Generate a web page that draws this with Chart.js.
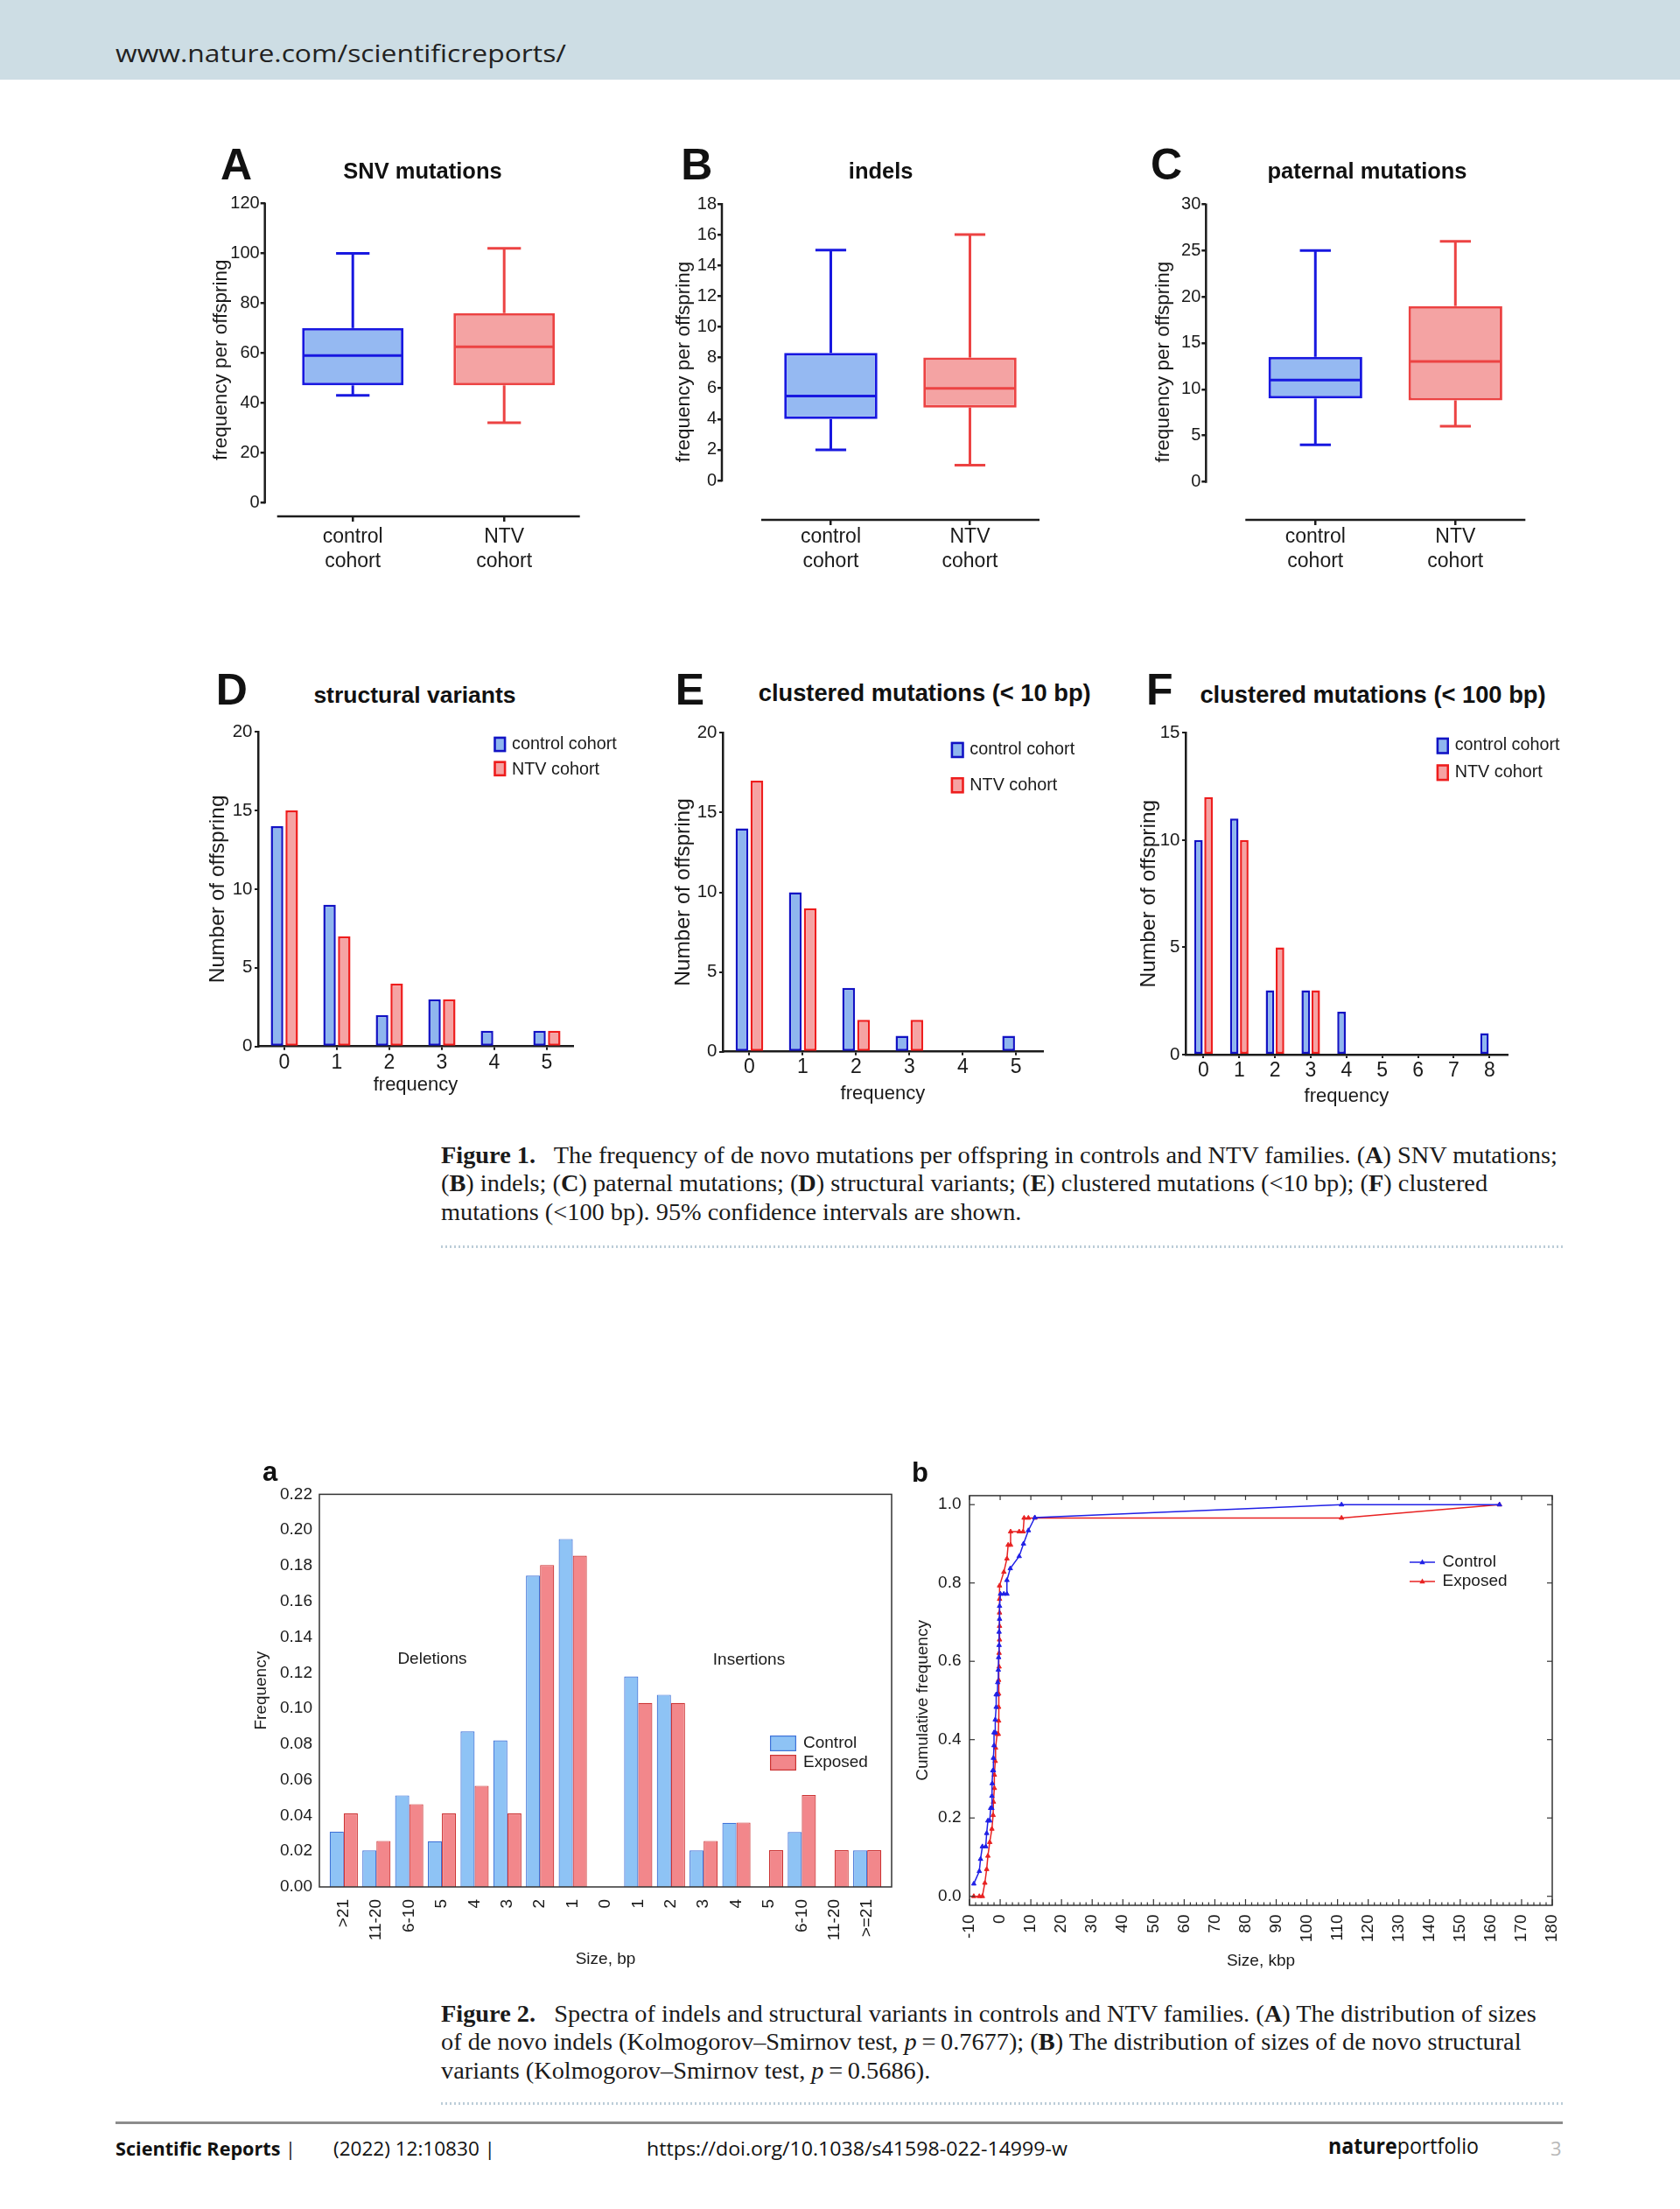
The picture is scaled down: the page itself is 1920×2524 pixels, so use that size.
<!DOCTYPE html>
<html>
<head>
<meta charset="utf-8">
<title>Scientific Reports – Figures 1 and 2</title>
<script src="https://cdn.jsdelivr.net/npm/chart.js@4.4.1/dist/chart.umd.min.js"></script>
<style>
  html, body { margin: 0; padding: 0; background: #fff; }
  #page { position: relative; width: 1920px; height: 2524px; overflow: hidden; background: #fff; }
  #page canvas { position: absolute; }
  .t { position: absolute; white-space: nowrap; color: #111; }
  #band { position: absolute; left: 0; top: 0; width: 1920px; height: 91px; background: #cddde4; }
  .dots { position: absolute; height: 3px; background: repeating-linear-gradient(90deg, #bccdd8 0 2px, transparent 2px 5px); }
  #rule { position: absolute; left: 132px; top: 2424px; width: 1654px; height: 3px; background: #8c8c8c; }
</style>
</head>
<body>
<div id="page">
  <div id="band"></div>
  <div class="dots" style="left:504px; top:1423px; width:1282px;"></div>
  <div class="dots" style="left:504px; top:2402px; width:1282px;"></div>
  <div id="rule"></div>
</div>
<script>
// ---------- Figure 1 (A-C): box plots, [min, q1, median, q3, max] ----------
const cohorts = [['control', 'cohort'], ['NTV', 'cohort']];
const snvControl = [43, 47, 59, 70, 100];
const snvNtv = [32, 47, 62.5, 76, 102];
const indelsControl = [2, 4, 5.5, 8.3, 15];
const indelsNtv = [1, 4.75, 6, 8, 16];
const paternalControl = [4, 9, 11, 13.5, 25];
const paternalNtv = [6, 8.8, 13, 19, 26];
const snvTicks = [0, 20, 40, 60, 80, 100, 120];
const indelsTicks = [0, 2, 4, 6, 8, 10, 12, 14, 16, 18];
const paternalTicks = [0, 5, 10, 15, 20, 25, 30];

// ---------- Figure 1 (D-F): number of offspring per frequency ----------
const svFreq = ['0', '1', '2', '3', '4', '5'];
const svControl = [14, 9, 2, 3, 1, 1];
const svNtv = [15, 7, 4, 3, 0, 1];
const cl10Freq = ['0', '1', '2', '3', '4', '5'];
const cl10Control = [14, 10, 4, 1, 0, 1];
const cl10Ntv = [17, 9, 2, 2, 0, 0];
const cl100Freq = ['0', '1', '2', '3', '4', '5', '6', '7', '8'];
const cl100Control = [10, 11, 3, 3, 2, 0, 0, 0, 1];
const cl100Ntv = [12, 10, 5, 3, 0, 0, 0, 0, 0];

// ---------- Figure 2a: indel size spectrum ----------
const indelSizes = ['>21', '11-20', '6-10', '5', '4', '3', '2', '1', '0', '1', '2', '3', '4', '5', '6-10', '11-20', '>=21'];
const indelFreqControl = [0.031, 0.0205, 0.0513, 0.0256, 0.0872, 0.0821, 0.1745, 0.195, 0, 0.1179, 0.1077, 0.0205, 0.0359, 0, 0.0308, 0, 0.0205];
const indelFreqExposed = [0.0412, 0.0258, 0.0464, 0.0412, 0.0567, 0.0412, 0.1804, 0.1856, 0, 0.1031, 0.1031, 0.0258, 0.0361, 0.0206, 0.0515, 0.0206, 0.0206];
const indelFreqTicks = [0, 0.02, 0.04, 0.06, 0.08, 0.10, 0.12, 0.14, 0.16, 0.18, 0.20, 0.22];

// ---------- Figure 2b: cumulative frequency of SV sizes (kbp) ----------
const svSizeControl = [-8.6, -6.8, -6.4, -5.8, -4.7, -4.4, -4.0, -3.4, -3.1, -2.7, -2.7, -2.6, -2.4, -2.2, -2.2, -2.0, -2.0, -1.6, -1.6, -1.3, -1.3, -0.9, -0.8, -0.6, -0.5, -0.35, -0.35, -0.2, -0.2, 0.1, 1.2, 2.2, 2.2, 3.3, 6.2, 7.6, 9.2, 11.3, 111.3, 162.8];
const svCumControl = [0.032, 0.064, 0.095, 0.127, 0.127, 0.161, 0.193, 0.193, 0.225, 0.225, 0.256, 0.288, 0.321, 0.321, 0.353, 0.385, 0.418, 0.418, 0.451, 0.483, 0.515, 0.515, 0.546, 0.578, 0.610, 0.641, 0.675, 0.708, 0.741, 0.772, 0.772, 0.772, 0.807, 0.837, 0.868, 0.900, 0.934, 0.967, 1.0, 1.0];
const svSizeExposed = [-8.6, -6.8, -5.8, -5.0, -4.4, -4.0, -3.4, -2.7, -2.3, -2.2, -1.9, -1.9, -1.6, -1.5, -1.0, -0.6, -0.5, -0.5, -0.5, -0.5, -0.35, -0.35, -0.2, -0.2, -0.2, -0.2, -0.2, 1.2, 2.2, 2.6, 3.4, 3.4, 6.2, 7.5, 7.8, 9.2, 11.3, 111.3, 162.8];
const svCumExposed = [0, 0, 0, 0.034, 0.069, 0.103, 0.138, 0.172, 0.207, 0.241, 0.276, 0.310, 0.345, 0.379, 0.414, 0.414, 0.448, 0.483, 0.517, 0.552, 0.586, 0.621, 0.655, 0.690, 0.724, 0.759, 0.793, 0.828, 0.862, 0.897, 0.897, 0.931, 0.931, 0.931, 0.966, 0.966, 0.966, 0.966, 1.0];
const kbpTicks = [-10, 0, 10, 20, 30, 40, 50, 60, 70, 80, 90, 100, 110, 120, 130, 140, 150, 160, 170, 180];
const cumTicks = [0, 0.2, 0.4, 0.6, 0.8, 1.0];

// ---------- look ----------
const SANS = "'Liberation Sans', Arial, Helvetica, sans-serif";
const SERIF = "'Liberation Serif', 'Times New Roman', serif";
const OPEN = "'Open Sans', 'Noto Sans', sans-serif";
const AXIS = '#1c1c1c';
const BOX_BLUE = '#1818e0', BOX_BLUE_FILL = '#95b9f2';
const BOX_RED = '#ec4343', BOX_RED_FILL = '#f4a3a3';
const BAR_BLUE = '#1212c4', BAR_BLUE_FILL = '#8fb6ee';
const BAR_RED = '#ee1d1d', BAR_RED_FILL = '#f5a3a3';
const F2_BLUE = '#3f72d8', F2_BLUE_FILL = '#8ec3f5';
const F2_RED = '#cc3434', F2_RED_FILL = '#f2878b';
const LINE_BLUE = '#2020e6', LINE_RED = '#e82222';

Chart.defaults.font.family = SANS;
Chart.defaults.color = '#1a1a1a';
Chart.defaults.animation = false;

const page = document.getElementById('page');

function text(html, x, base, size, opts = {}) {
  const d = document.createElement('div');
  d.className = 't';
  d.innerHTML = html;
  d.style.fontFamily = opts.family || SANS;
  d.style.fontSize = size + 'px';
  d.style.lineHeight = size + 'px';
  d.style.fontWeight = opts.bold ? 'bold' : 'normal';
  if (opts.color) d.style.color = opts.color;
  d.style.left = x + 'px';
  d.style.top = (base - 0.85 * size) + 'px';
  if (opts.center) d.style.transform = 'translateX(-50%)';
  page.appendChild(d);
  return d;
}

function squeeze(el, target) {
  const w = el.getBoundingClientRect().width;
  el.style.transformOrigin = 'left top';
  el.style.transform = 'scaleX(' + (target / w) + ')';
}

function geo(g) {
  const left = Math.round(g.left), top = Math.round(g.top);
  const width = Math.round(g.right - left), height = Math.round(g.bottom - top);
  return {
    left, top, width, height,
    yW: g.chartLeft - left, padTop: g.chartTop - top,
    padRight: left + width - g.chartRight, xH: top + height - g.chartBottom,
  };
}

function makeCanvas(k) {
  const c = document.createElement('canvas');
  c.width = k.width; c.height = k.height;
  c.style.left = k.left + 'px'; c.style.top = k.top + 'px';
  c.style.width = k.width + 'px'; c.style.height = k.height + 'px';
  page.appendChild(c);
  return c;
}

function seg(ctx, x1, y1, x2, y2) {
  ctx.beginPath(); ctx.moveTo(x1, y1); ctx.lineTo(x2, y2); ctx.stroke();
}

// legend / notes drawn at page coordinates
function notes(k, items) {
  return {
    id: 'notes',
    afterDraw(chart) {
      const ctx = chart.ctx;
      ctx.save();
      items.forEach((it) => {
        const x = it.x - k.left, y = it.y - k.top;
        if (it.box) {
          ctx.fillStyle = it.fill;
          ctx.fillRect(x, y, it.w, it.h);
          ctx.strokeStyle = it.stroke; ctx.lineWidth = it.lw;
          ctx.strokeRect(x + it.lw / 2, y + it.lw / 2, it.w - it.lw, it.h - it.lw);
        } else if (it.line) {
          ctx.strokeStyle = it.color; ctx.lineWidth = 1.5;
          seg(ctx, x, y, x + it.w, y);
          ctx.fillStyle = it.color;
          ctx.beginPath();
          const mx = x + it.w / 2;
          ctx.moveTo(mx, y - 3.5); ctx.lineTo(mx + 3.2, y + 2.2); ctx.lineTo(mx - 3.2, y + 2.2);
          ctx.closePath(); ctx.fill();
        } else {
          ctx.fillStyle = '#1a1a1a';
          ctx.font = it.size + 'px ' + SANS;
          ctx.textBaseline = 'middle';
          ctx.textAlign = it.align || 'left';
          ctx.fillText(it.text, x, y);
        }
      });
      ctx.restore();
    },
  };
}

// ---------- box plots ----------
const boxExtras = {
  id: 'boxExtras',
  afterDatasetsDraw(chart) {
    const { ctx, chartArea, scales: { x, y } } = chart;
    const ds = chart.data.datasets[0];
    const meta = chart.getDatasetMeta(0);
    ctx.save();
    ctx.lineWidth = 3;
    ds.stats.forEach((s, i) => {
      const bar = meta.data[i];
      const cx = bar.x, half = bar.width / 2, cap = bar.width * 0.165;
      ctx.strokeStyle = ds.borderColor[i];
      const py = (v) => y.getPixelForValue(v);
      seg(ctx, cx - half + 2, py(s[2]), cx + half - 2, py(s[2]));
      seg(ctx, cx, py(s[3]), cx, py(s[4]));
      seg(ctx, cx, py(s[1]), cx, py(s[0]));
      seg(ctx, cx - cap, py(s[4]), cx + cap, py(s[4]));
      seg(ctx, cx - cap, py(s[0]), cx + cap, py(s[0]));
    });
    ctx.strokeStyle = AXIS;
    ctx.lineWidth = 2.5;
    seg(ctx, chartArea.left, y.getPixelForValue(y.max) - 1, chartArea.left, y.getPixelForValue(0) + 1.25);
    seg(ctx, x.getPixelForValue(-0.5), chartArea.bottom, x.getPixelForValue(1.5), chartArea.bottom);
    ctx.restore();
  },
};

function boxPlot(g, ctrl, ntv, yTicks) {
  const k = geo(g);
  return new Chart(makeCanvas(k), {
    type: 'bar',
    data: {
      datasets: [{
        data: [{ x: 0, y: [ctrl[1], ctrl[3]] }, { x: 1, y: [ntv[1], ntv[3]] }],
        stats: [ctrl, ntv],
        backgroundColor: [BOX_BLUE_FILL, BOX_RED_FILL],
        borderColor: [BOX_BLUE, BOX_RED],
        borderWidth: 3,
        borderSkipped: false,
        barPercentage: 0.67,
        categoryPercentage: 1,
      }],
    },
    options: {
      responsive: false,
      animation: false,
      layout: { padding: { top: k.padTop, right: k.padRight, left: 0, bottom: 0 } },
      plugins: { legend: { display: false }, tooltip: { enabled: false } },
      scales: {
        x: {
          type: 'linear', min: g.xMin, max: 1.5, offset: false,
          afterBuildTicks: (s) => { s.ticks = [{ value: 0 }, { value: 1 }]; },
          afterFit: (s) => { s.height = k.xH; },
          border: { display: false },
          grid: { drawOnChartArea: false, offset: false, tickLength: 6, lineWidth: 2.5, color: AXIS },
          ticks: { callback: (v) => cohorts[v], font: { size: 23 }, padding: g.labPad, maxRotation: 0, autoSkip: false, color: '#1a1a1a' },
        },
        y: {
          min: g.yMin, max: g.yMax,
          afterBuildTicks: (s) => { s.ticks = yTicks.map((v) => ({ value: v })); },
          afterFit: (s) => { s.width = k.yW; },
          border: { display: false },
          grid: { drawOnChartArea: false, tickLength: 5, lineWidth: 2.5, color: AXIS },
          ticks: { font: { size: 20 }, padding: 1, autoSkip: false, color: '#1a1a1a' },
          title: { display: true, text: 'frequency per offspring', font: { size: 22.5 }, padding: 0, color: '#1a1a1a' },
        },
      },
    },
    plugins: [boxExtras],
  });
}

// ---------- grouped frequency bars ----------
function freqBars(g, labels, ctrl, ntv, legend) {
  const k = geo(g);
  return new Chart(makeCanvas(k), {
    type: 'bar',
    data: {
      labels,
      datasets: [
        { label: 'control cohort', data: ctrl, backgroundColor: BAR_BLUE_FILL, borderColor: BAR_BLUE, borderWidth: 2.5, borderSkipped: false, categoryPercentage: 0.56, barPercentage: 0.85 },
        { label: 'NTV cohort', data: ntv, backgroundColor: BAR_RED_FILL, borderColor: BAR_RED, borderWidth: 2.5, borderSkipped: false, categoryPercentage: 0.56, barPercentage: 0.85 },
      ],
    },
    options: {
      responsive: false,
      animation: false,
      layout: { padding: { top: k.padTop, right: k.padRight, left: 0, bottom: 0 } },
      plugins: { legend: { display: false }, tooltip: { enabled: false } },
      scales: {
        x: {
          afterFit: (s) => { s.height = k.xH; },
          border: { color: AXIS, width: 2.5 },
          grid: { drawOnChartArea: false, offset: false, tickLength: 4, lineWidth: 2, color: AXIS },
          ticks: { font: { size: 23 }, padding: g.labPad, maxRotation: 0, color: '#1a1a1a' },
          title: { display: true, text: 'frequency', font: { size: 22 }, padding: 0, color: '#1a1a1a' },
        },
        y: {
          min: 0, max: g.yMax,
          afterFit: (s) => { s.width = k.yW; },
          border: { color: AXIS, width: 2.5 },
          grid: { drawOnChartArea: false, tickLength: 4, lineWidth: 2, color: AXIS },
          ticks: { stepSize: 5, font: { size: 20.5 }, padding: 2.5, color: '#1a1a1a' },
          title: { display: true, text: 'Number of offspring', font: { size: 24.5 }, padding: 0, color: '#1a1a1a' },
        },
      },
    },
    plugins: [notes(k, legend)],
  });
}

function cohortLegend(bx, y1, y2, bw, bh, tx, t1, t2) {
  return [
    { box: true, x: bx, y: y1, w: bw, h: bh, fill: BAR_BLUE_FILL, stroke: BAR_BLUE, lw: 2.5 },
    { box: true, x: bx, y: y2, w: bw, h: bh, fill: BAR_RED_FILL, stroke: BAR_RED, lw: 2.5 },
    { text: 'control cohort', x: tx, y: t1, size: 19.8 },
    { text: 'NTV cohort', x: tx, y: t2, size: 19.8 },
  ];
}

// ---------- Figure 1 ----------
boxPlot({ left: 238.5, top: 200, right: 678, bottom: 670, chartLeft: 302.7, chartTop: 232.5, chartRight: 662.7, chartBottom: 590, xMin: -0.581, yMin: -5.6, yMax: 120, labPad: 4.2 }, snvControl, snvNtv, snvTicks);
boxPlot({ left: 768, top: 200, right: 1203, bottom: 670, chartLeft: 825, chartTop: 233, chartRight: 1188, chartBottom: 594, xMin: -0.783, yMin: -2.56, yMax: 18, labPad: 0.2 }, indelsControl, indelsNtv, indelsTicks);
boxPlot({ left: 1316, top: 200, right: 1758, bottom: 670, chartLeft: 1378.3, chartTop: 233.4, chartRight: 1743.3, chartBottom: 594, xMin: -0.781, yMin: -4.12, yMax: 30, labPad: 0.2 }, paternalControl, paternalNtv, paternalTicks);

freqBars({ left: 235, top: 815, right: 712, bottom: 1253, chartLeft: 295, chartTop: 836, chartRight: 655, chartBottom: 1195.7, yMax: 20, labPad: 1.5 },
  svFreq, svControl, svNtv, cohortLegend(564.3, 841.7, 869.5, 14, 17.6, 585, 851, 879.3));
freqBars({ left: 767, top: 815, right: 1240, bottom: 1263, chartLeft: 826, chartTop: 837.3, chartRight: 1191.7, chartBottom: 1201.7, yMax: 20, labPad: 0.5 },
  cl10Freq, cl10Control, cl10Ntv, cohortLegend(1086.7, 847.7, 888, 15, 18.5, 1108.3, 856.7, 897.3));
freqBars({ left: 1299, top: 815, right: 1795, bottom: 1266, chartLeft: 1355, chartTop: 837.3, chartRight: 1722.7, chartBottom: 1205, yMax: 15, labPad: 0.5 },
  cl100Freq, cl100Control, cl100Ntv, cohortLegend(1641.7, 842.7, 873.3, 14.3, 19, 1662.7, 852, 883));

// ---------- Figure 2a ----------
(function () {
  const k = geo({ left: 287, top: 1688, right: 1040, bottom: 2250, chartLeft: 365, chartTop: 1702.5, chartRight: 1019, chartBottom: 2156 });
  const frame = {
    id: 'frame',
    afterDraw(chart) {
      const { ctx, chartArea: a } = chart;
      ctx.save();
      ctx.strokeStyle = '#333'; ctx.lineWidth = 1.5;
      ctx.strokeRect(a.left, a.top, a.right - a.left, a.bottom - a.top);
      ctx.restore();
    },
  };
  new Chart(makeCanvas(k), {
    type: 'bar',
    data: {
      datasets: [
        { label: 'Control', data: indelFreqControl.map((v, i) => ({ x: i, y: v })), backgroundColor: F2_BLUE_FILL, borderColor: F2_BLUE, borderWidth: 1.2, borderSkipped: 'start', categoryPercentage: 0.86, barPercentage: 1 },
        { label: 'Exposed', data: indelFreqExposed.map((v, i) => ({ x: i, y: v })), backgroundColor: F2_RED_FILL, borderColor: F2_RED, borderWidth: 1.2, borderSkipped: 'start', categoryPercentage: 0.86, barPercentage: 1 },
      ],
    },
    options: {
      responsive: false,
      animation: false,
      layout: { padding: { top: k.padTop, right: k.padRight, left: 0, bottom: 0 } },
      plugins: { legend: { display: false }, tooltip: { enabled: false } },
      scales: {
        x: {
          type: 'linear', min: -0.745, max: 16.745, offset: false,
          afterBuildTicks: (s) => { s.ticks = indelSizes.map((_, i) => ({ value: i })); },
          afterFit: (s) => { s.height = k.xH; },
          border: { display: false },
          grid: { display: false, drawTicks: false, offset: false },
          ticks: { callback: (v) => indelSizes[v], minRotation: 90, maxRotation: 90, autoSkip: false, font: { size: 19 }, padding: 14, color: '#1a1a1a' },
          title: { display: true, text: 'Size, bp', font: { size: 19 }, padding: 0, color: '#1a1a1a' },
        },
        y: {
          min: 0, max: 0.22,
          afterBuildTicks: (s) => { s.ticks = indelFreqTicks.map((v) => ({ value: v })); },
          afterFit: (s) => { s.width = k.yW; },
          border: { display: false },
          grid: { display: false, drawTicks: false },
          ticks: { callback: (v) => v.toFixed(2), font: { size: 19 }, padding: 8, autoSkip: false, color: '#1a1a1a' },
          title: { display: true, text: 'Frequency', font: { size: 19 }, padding: 0, color: '#1a1a1a' },
        },
      },
    },
    plugins: [frame, notes(k, [
      { text: 'Deletions', x: 494, y: 1896, size: 19, align: 'center' },
      { text: 'Insertions', x: 856, y: 1897, size: 19, align: 'center' },
      { box: true, x: 880, y: 1983, w: 30, h: 18, fill: F2_BLUE_FILL, stroke: F2_BLUE, lw: 1.2 },
      { box: true, x: 880, y: 2005, w: 30, h: 18, fill: F2_RED_FILL, stroke: F2_RED, lw: 1.2 },
      { text: 'Control', x: 918, y: 1992, size: 19 },
      { text: 'Exposed', x: 918, y: 2014, size: 19 },
    ])],
  });
})();

// ---------- Figure 2b ----------
(function () {
  const k = geo({ left: 1043, top: 1688, right: 1814, bottom: 2252, chartLeft: 1108, chartTop: 1702.5, chartRight: 1774, chartBottom: 2177 });
  const frame = {
    id: 'frame',
    afterDraw(chart) {
      const { ctx, chartArea: a, scales: { x, y } } = chart;
      ctx.save();
      ctx.strokeStyle = '#333'; ctx.lineWidth = 1.5;
      ctx.strokeRect(a.left, a.top, a.right - a.left, a.bottom - a.top);
      ctx.lineWidth = 1.2;
      y.ticks.forEach((t) => {
        const py = y.getPixelForValue(t.value);
        seg(ctx, a.left, py, a.left + 6, py);
        seg(ctx, a.right - 6, py, a.right, py);
      });
      x.ticks.forEach((t) => {
        const px = x.getPixelForValue(t.value);
        seg(ctx, px, a.bottom - 7, px, a.bottom);
        seg(ctx, px, a.top, px, a.top + 5);
        for (let m = 2; m < 10 && t.value + m < x.max; m += 2) {
          const pm = x.getPixelForValue(t.value + m);
          seg(ctx, pm, a.bottom - 3.5, pm, a.bottom);
        }
      });
      ctx.restore();
    },
  };
  const line = (label, xs, ys, color) => ({
    label,
    data: xs.map((v, i) => ({ x: v, y: ys[i] })),
    showLine: true,
    borderColor: color,
    backgroundColor: color,
    borderWidth: 1.5,
    pointStyle: 'triangle',
    pointRadius: 3,
    pointBorderWidth: 1,
    tension: 0,
  });
  new Chart(makeCanvas(k), {
    type: 'scatter',
    data: {
      datasets: [
        line('Control', svSizeControl, svCumControl, LINE_BLUE),
        line('Exposed', svSizeExposed, svCumExposed, LINE_RED),
      ],
    },
    options: {
      responsive: false,
      animation: false,
      layout: { padding: { top: k.padTop, right: k.padRight, left: 0, bottom: 0 } },
      plugins: { legend: { display: false }, tooltip: { enabled: false } },
      scales: {
        x: {
          type: 'linear', min: -10, max: 180,
          afterBuildTicks: (s) => { s.ticks = kbpTicks.map((v) => ({ value: v })); },
          afterFit: (s) => { s.height = k.xH; },
          border: { display: false },
          grid: { display: false, drawTicks: false },
          ticks: { minRotation: 90, maxRotation: 90, autoSkip: false, font: { size: 19 }, padding: 10.5, color: '#1a1a1a' },
          title: { display: true, text: 'Size, kbp', font: { size: 19 }, padding: 0, color: '#1a1a1a' },
        },
        y: {
          min: -0.023, max: 1.023,
          afterBuildTicks: (s) => { s.ticks = cumTicks.map((v) => ({ value: v })); },
          afterFit: (s) => { s.width = k.yW; },
          border: { display: false },
          grid: { display: false, drawTicks: false },
          ticks: { callback: (v) => v.toFixed(1), font: { size: 19 }, padding: 9.5, autoSkip: false, color: '#1a1a1a' },
          title: { display: true, text: 'Cumulative frequency', font: { size: 19 }, padding: 0, color: '#1a1a1a' },
        },
      },
    },
    plugins: [frame, notes(k, [
      { line: true, x: 1611, y: 1785, w: 29, color: LINE_BLUE },
      { line: true, x: 1611, y: 1807, w: 29, color: LINE_RED },
      { text: 'Control', x: 1648.6, y: 1785, size: 19 },
      { text: 'Exposed', x: 1648.6, y: 1807, size: 19 },
    ])],
  });
})();

// ---------- panel letters and titles ----------
text('A', 252, 205, 50, { bold: true });
text('B', 778.3, 205, 50, { bold: true });
text('C', 1315, 205, 50, { bold: true });
text('SNV mutations', 483, 205, 25.5, { bold: true, center: true });
text('indels', 1006.7, 205, 25.5, { bold: true, center: true });
text('paternal mutations', 1562.5, 205, 25.5, { bold: true, center: true });
text('D', 246.7, 805, 50, { bold: true });
text('E', 771.7, 805, 50, { bold: true });
text('F', 1310, 805, 50, { bold: true });
text('structural variants', 474, 803.3, 26.5, { bold: true, center: true });
text('clustered mutations (&lt; 10 bp)', 1056.7, 801.7, 27.3, { bold: true, center: true });
text('clustered mutations (&lt; 100 bp)', 1569, 803.3, 27.3, { bold: true, center: true });
text('a', 300, 1692, 31, { bold: true });
text('b', 1042, 1693, 31, { bold: true });

// ---------- captions ----------
const cap1 = [
  '<b>Figure 1.</b>&nbsp;&nbsp; The frequency of de novo mutations per offspring in controls and NTV families. (<b>A</b>) SNV mutations;',
  '(<b>B</b>) indels; (<b>C</b>) paternal mutations; (<b>D</b>) structural variants; (<b>E</b>) clustered mutations (&lt;10 bp); (<b>F</b>) clustered',
  'mutations (&lt;100 bp). 95% confidence intervals are shown.',
];
const cap2 = [
  '<b>Figure 2.</b>&nbsp;&nbsp; Spectra of indels and structural variants in controls and NTV families. (<b>A</b>) The distribution of sizes',
  'of de novo indels (Kolmogorov–Smirnov test, <i>p</i>&thinsp;=&thinsp;0.7677); (<b>B</b>) The distribution of sizes of de novo structural',
  'variants (Kolmogorov–Smirnov test, <i>p</i>&thinsp;=&thinsp;0.5686).',
];
const probe = text(cap1[0], 504, 1327, 26, { family: SERIF });
const capSize = 26 * 1276 / probe.getBoundingClientRect().width;
probe.remove();
[1330, 1362.5, 1395].forEach((b, i) => text(cap1[i], 504, b, capSize, { family: SERIF, color: '#1a1a1a' }));
[2311, 2343.5, 2376].forEach((b, i) => text(cap2[i], 504, b, capSize, { family: SERIF, color: '#1a1a1a' }));

// ---------- header / footer ----------
squeeze(text('www.nature.com/scientificreports/', 132, 70, 28, { family: OPEN, color: '#222' }), 515);
squeeze(text('<b>Scientific Reports</b> |', 132, 2462, 22, { family: OPEN, color: '#111' }), 206);
squeeze(text('(2022) 12:10830 |', 381, 2462, 22, { family: OPEN, color: '#111' }), 185);
squeeze(text('https://doi.org/10.1038/s41598-022-14999-w', 739, 2462, 22, { family: OPEN, color: '#111' }), 481);
squeeze(text('<b>nature</b>portfolio', 1518, 2460, 25, { family: OPEN, color: '#111' }), 172);
text('3', 1772, 2462, 22, { family: OPEN, color: '#b8b8b8' });
</script>
</body>
</html>
